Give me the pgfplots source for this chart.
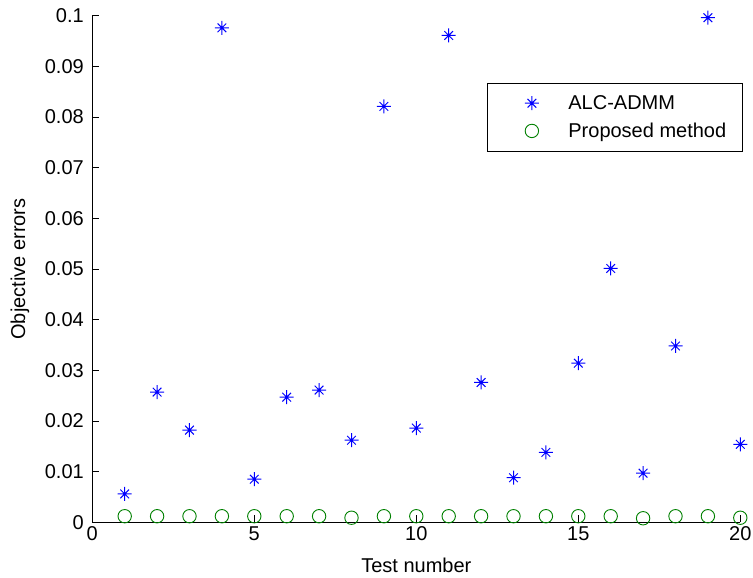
\documentclass[border=0pt]{standalone}
\usepackage{fontspec}
\setmainfont{Liberation Sans}
\usepackage{pgfplots}
\pgfplotsset{compat=1.18}
\definecolor{mblue}{rgb}{0,0,1}
\definecolor{mgreen}{rgb}{0,0.5,0}
\pgfdeclareplotmark{matstar}{%
 \pgfpathmoveto{\pgfqpoint{-\pgfplotmarksize}{0pt}}\pgfpathlineto{\pgfqpoint{\pgfplotmarksize}{0pt}}%
 \pgfpathmoveto{\pgfqpoint{0pt}{-\pgfplotmarksize}}\pgfpathlineto{\pgfqpoint{0pt}{\pgfplotmarksize}}%
 \pgfpathmoveto{\pgfqpoint{-0.62\pgfplotmarksize}{-0.62\pgfplotmarksize}}\pgfpathlineto{\pgfqpoint{0.62\pgfplotmarksize}{0.62\pgfplotmarksize}}%
 \pgfpathmoveto{\pgfqpoint{-0.62\pgfplotmarksize}{0.62\pgfplotmarksize}}\pgfpathlineto{\pgfqpoint{0.62\pgfplotmarksize}{-0.62\pgfplotmarksize}}%
 \pgfusepathqstroke}
\begin{document}
\begin{tikzpicture}
\begin{axis}[
  at={(92.3pt,55.7pt)}, anchor=south west,
  scale only axis, width=648pt, height=506.6pt,
  xmin=0, xmax=20, ymin=0, ymax=0.1,
  axis lines*=left,
  axis line style={black, line width=0.8pt},
  tick align=inside,
  major tick length=7pt,
  tick style={black, line width=0.8pt},
  xtick={0,5,10,15,20},
  ytick={0,0.01,0.02,0.03,0.04,0.05,0.06,0.07,0.08,0.09,0.1},
  scaled y ticks=false,
  yticklabel style={/pgf/number format/fixed, /pgf/number format/precision=2, xshift=-5pt},
  /pgf/number format/assume math mode=true,
  tick label style={font=\fontsize{20}{24}\selectfont, black},
  xticklabel style={yshift=-1pt},
  xlabel={Test number},
  ylabel={Objective errors},
  every axis x label/.style={at={(axis description cs:0.5,-0.0843)}, anchor=center, font=\fontsize{20}{24}\selectfont},
  every axis y label/.style={at={(axis description cs:-0.1116,0.5)}, rotate=90, anchor=center, font=\fontsize{20}{24}\selectfont},
  legend style={at={(rel axis cs:0.609,0.867)}, anchor=north west,
    font=\fontsize{20}{24}\selectfont, draw=black, line width=0.8pt,
    inner xsep=0pt, inner ysep=11pt, minimum width=255pt,
    row sep=10pt, nodes={inner xsep=2pt, inner ysep=1pt, minimum width=0pt}},
  legend cell align=left,
  legend image code/.code={\path (-30pt,0pt) (34pt,0pt); \draw[mark repeat=2,mark phase=2,#1] plot coordinates {(-30pt,0pt)(0pt,0pt)(34pt,0pt)};},
]
\addplot[only marks, mark=matstar, mark size=7pt, color=mblue, line width=1pt] coordinates {
(1,0.0056)(2,0.0257)(3,0.0182)(4,0.0976)(5,0.0085)(6,0.0247)(7,0.0261)(8,0.0162)(9,0.0821)(10,0.0186)
(11,0.0961)(12,0.0276)(13,0.0088)(14,0.0138)(15,0.0314)(16,0.0501)(17,0.0097)(18,0.0348)(19,0.0996)(20,0.0154)};
\addlegendentry{ALC-ADMM}
\addplot[only marks, mark=o, mark size=6.7pt, color=mgreen, line width=0.9pt] coordinates {
(1,0.0012)(2,0.0012)(3,0.0012)(4,0.0012)(5,0.0012)(6,0.0012)(7,0.0012)(8,0.0009)(9,0.0012)(10,0.0012)
(11,0.0012)(12,0.0012)(13,0.0012)(14,0.0012)(15,0.0012)(16,0.0012)(17,0.0008)(18,0.0012)(19,0.0012)(20,0.0009)};
\addlegendentry{Proposed method}
\end{axis}
\pgfresetboundingbox
\path[use as bounding box] (0pt,0pt) rectangle (753pt,578pt);
\end{tikzpicture}
\end{document}
